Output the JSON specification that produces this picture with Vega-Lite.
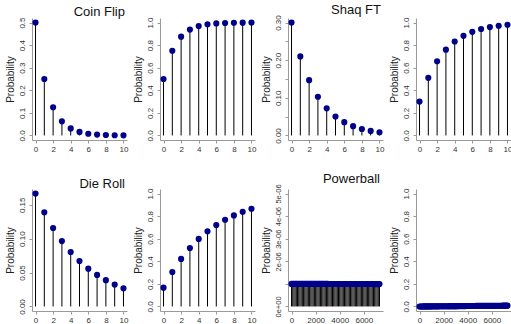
{
"$schema": "https://vega.github.io/schema/vega-lite/v6.json",
"padding": {"left": 5, "top": 3, "right": 0, "bottom": 0},
"bounds": "flush",
"columns": 4,
"spacing": {"row": 49, "column": 33},
"config": {
  "view": {"stroke": null},
  "font": "Liberation Sans",
  "axis": {"grid": false, "domainColor": "#9a9a9a", "tickColor": "#9a9a9a", "tickSize": 3, "labelFontSize": 8, "labelColor": "#333333", "titleFontSize": 10, "titleFontWeight": "normal", "titleColor": "#222222", "labelOverlap": false, "labelFlush": false},
  "axisY": {"labelAngle": -90, "labelAlign": "center", "labelBaseline": "bottom", "labelPadding": 3, "minExtent": 14, "maxExtent": 14, "titlePadding": 2.5},
  "axisX": {"labelPadding": 2},
  "title": {"fontSize": 13, "fontWeight": "normal", "anchor": "end", "color": "#111111", "offset": -2, "dx": -3, "baseline": "alphabetic"}
},
"datasets": {
  "geo": [
    {"game": "Coin Flip", "k": 0, "pmf": 0.5, "cdf": 0.5},
    {"game": "Coin Flip", "k": 1, "pmf": 0.25, "cdf": 0.75},
    {"game": "Coin Flip", "k": 2, "pmf": 0.125, "cdf": 0.875},
    {"game": "Coin Flip", "k": 3, "pmf": 0.0625, "cdf": 0.9375},
    {"game": "Coin Flip", "k": 4, "pmf": 0.03125, "cdf": 0.96875},
    {"game": "Coin Flip", "k": 5, "pmf": 0.015625, "cdf": 0.984375},
    {"game": "Coin Flip", "k": 6, "pmf": 0.0078125, "cdf": 0.9921875},
    {"game": "Coin Flip", "k": 7, "pmf": 0.00390625, "cdf": 0.99609375},
    {"game": "Coin Flip", "k": 8, "pmf": 0.00195313, "cdf": 0.99804688},
    {"game": "Coin Flip", "k": 9, "pmf": 0.00097656, "cdf": 0.99902344},
    {"game": "Coin Flip", "k": 10, "pmf": 0.00048828, "cdf": 0.99951172},
    {"game": "Shaq FT", "k": 0, "pmf": 0.3, "cdf": 0.3},
    {"game": "Shaq FT", "k": 1, "pmf": 0.21, "cdf": 0.51},
    {"game": "Shaq FT", "k": 2, "pmf": 0.147, "cdf": 0.657},
    {"game": "Shaq FT", "k": 3, "pmf": 0.1029, "cdf": 0.7599},
    {"game": "Shaq FT", "k": 4, "pmf": 0.07203, "cdf": 0.83193},
    {"game": "Shaq FT", "k": 5, "pmf": 0.050421, "cdf": 0.882351},
    {"game": "Shaq FT", "k": 6, "pmf": 0.035295, "cdf": 0.917646},
    {"game": "Shaq FT", "k": 7, "pmf": 0.024706, "cdf": 0.942352},
    {"game": "Shaq FT", "k": 8, "pmf": 0.017294, "cdf": 0.959646},
    {"game": "Shaq FT", "k": 9, "pmf": 0.012106, "cdf": 0.971752},
    {"game": "Shaq FT", "k": 10, "pmf": 0.008474, "cdf": 0.980227},
    {"game": "Die Roll", "k": 0, "pmf": 0.166667, "cdf": 0.166667},
    {"game": "Die Roll", "k": 1, "pmf": 0.138889, "cdf": 0.305556},
    {"game": "Die Roll", "k": 2, "pmf": 0.115741, "cdf": 0.421296},
    {"game": "Die Roll", "k": 3, "pmf": 0.096451, "cdf": 0.517747},
    {"game": "Die Roll", "k": 4, "pmf": 0.080376, "cdf": 0.598122},
    {"game": "Die Roll", "k": 5, "pmf": 0.06698, "cdf": 0.665102},
    {"game": "Die Roll", "k": 6, "pmf": 0.055816, "cdf": 0.720918},
    {"game": "Die Roll", "k": 7, "pmf": 0.046514, "cdf": 0.767432},
    {"game": "Die Roll", "k": 8, "pmf": 0.038761, "cdf": 0.806193},
    {"game": "Die Roll", "k": 9, "pmf": 0.032301, "cdf": 0.838494},
    {"game": "Die Roll", "k": 10, "pmf": 0.026918, "cdf": 0.865412}
  ],
  "powerball": [
    {"k": 0, "pmf": 1.0e-6, "cdf": 0.000001},
    {"k": 100, "pmf": 9.999e-7, "cdf": 0.000101},
    {"k": 200, "pmf": 9.998e-7, "cdf": 0.000201},
    {"k": 300, "pmf": 9.997e-7, "cdf": 0.000301},
    {"k": 400, "pmf": 9.996e-7, "cdf": 0.000401},
    {"k": 500, "pmf": 9.995e-7, "cdf": 0.000501},
    {"k": 600, "pmf": 9.994e-7, "cdf": 0.000601},
    {"k": 700, "pmf": 9.993e-7, "cdf": 0.000701},
    {"k": 800, "pmf": 9.992e-7, "cdf": 0.000801},
    {"k": 900, "pmf": 9.991e-7, "cdf": 0.000901},
    {"k": 1000, "pmf": 9.99e-7, "cdf": 0.001000},
    {"k": 1100, "pmf": 9.989e-7, "cdf": 0.001100},
    {"k": 1200, "pmf": 9.988e-7, "cdf": 0.001200},
    {"k": 1300, "pmf": 9.987e-7, "cdf": 0.001300},
    {"k": 1400, "pmf": 9.986e-7, "cdf": 0.001400},
    {"k": 1500, "pmf": 9.985e-7, "cdf": 0.001500},
    {"k": 1600, "pmf": 9.984e-7, "cdf": 0.001600},
    {"k": 1700, "pmf": 9.983e-7, "cdf": 0.001700},
    {"k": 1800, "pmf": 9.982e-7, "cdf": 0.001799},
    {"k": 1900, "pmf": 9.981e-7, "cdf": 0.001899},
    {"k": 2000, "pmf": 9.98e-7, "cdf": 0.001999},
    {"k": 2100, "pmf": 9.979e-7, "cdf": 0.002099},
    {"k": 2200, "pmf": 9.978e-7, "cdf": 0.002199},
    {"k": 2300, "pmf": 9.977e-7, "cdf": 0.002298},
    {"k": 2400, "pmf": 9.976e-7, "cdf": 0.002398},
    {"k": 2500, "pmf": 9.975e-7, "cdf": 0.002498},
    {"k": 2600, "pmf": 9.974e-7, "cdf": 0.002598},
    {"k": 2700, "pmf": 9.973e-7, "cdf": 0.002697},
    {"k": 2800, "pmf": 9.972e-7, "cdf": 0.002797},
    {"k": 2900, "pmf": 9.971e-7, "cdf": 0.002897},
    {"k": 3000, "pmf": 9.97e-7, "cdf": 0.002997},
    {"k": 3100, "pmf": 9.969e-7, "cdf": 0.003096},
    {"k": 3200, "pmf": 9.968e-7, "cdf": 0.003196},
    {"k": 3300, "pmf": 9.967e-7, "cdf": 0.003296},
    {"k": 3400, "pmf": 9.966e-7, "cdf": 0.003395},
    {"k": 3500, "pmf": 9.965e-7, "cdf": 0.003495},
    {"k": 3600, "pmf": 9.964e-7, "cdf": 0.003595},
    {"k": 3700, "pmf": 9.963e-7, "cdf": 0.003694},
    {"k": 3800, "pmf": 9.962e-7, "cdf": 0.003794},
    {"k": 3900, "pmf": 9.961e-7, "cdf": 0.003893},
    {"k": 4000, "pmf": 9.96e-7, "cdf": 0.003993},
    {"k": 4100, "pmf": 9.959e-7, "cdf": 0.004093},
    {"k": 4200, "pmf": 9.958e-7, "cdf": 0.004192},
    {"k": 4300, "pmf": 9.957e-7, "cdf": 0.004292},
    {"k": 4400, "pmf": 9.956e-7, "cdf": 0.004391},
    {"k": 4500, "pmf": 9.955e-7, "cdf": 0.004491},
    {"k": 4600, "pmf": 9.954e-7, "cdf": 0.004590},
    {"k": 4700, "pmf": 9.953e-7, "cdf": 0.004690},
    {"k": 4800, "pmf": 9.952e-7, "cdf": 0.004789},
    {"k": 4900, "pmf": 9.951e-7, "cdf": 0.004889},
    {"k": 5000, "pmf": 9.95e-7, "cdf": 0.004989},
    {"k": 5100, "pmf": 9.949e-7, "cdf": 0.005088},
    {"k": 5200, "pmf": 9.948e-7, "cdf": 0.005187},
    {"k": 5300, "pmf": 9.947e-7, "cdf": 0.005287},
    {"k": 5400, "pmf": 9.946e-7, "cdf": 0.005386},
    {"k": 5500, "pmf": 9.945e-7, "cdf": 0.005486},
    {"k": 5600, "pmf": 9.944e-7, "cdf": 0.005585},
    {"k": 5700, "pmf": 9.943e-7, "cdf": 0.005685},
    {"k": 5800, "pmf": 9.942e-7, "cdf": 0.005784},
    {"k": 5900, "pmf": 9.941e-7, "cdf": 0.005884},
    {"k": 6000, "pmf": 9.94e-7, "cdf": 0.005983},
    {"k": 6100, "pmf": 9.939e-7, "cdf": 0.006082},
    {"k": 6200, "pmf": 9.938e-7, "cdf": 0.006182},
    {"k": 6300, "pmf": 9.937e-7, "cdf": 0.006281},
    {"k": 6400, "pmf": 9.936e-7, "cdf": 0.006381},
    {"k": 6500, "pmf": 9.935e-7, "cdf": 0.006480},
    {"k": 6600, "pmf": 9.934e-7, "cdf": 0.006579},
    {"k": 6700, "pmf": 9.933e-7, "cdf": 0.006679},
    {"k": 6800, "pmf": 9.932e-7, "cdf": 0.006778},
    {"k": 6900, "pmf": 9.931e-7, "cdf": 0.006877},
    {"k": 7000, "pmf": 9.93e-7, "cdf": 0.006977},
    {"k": 7100, "pmf": 9.929e-7, "cdf": 0.007076},
    {"k": 7200, "pmf": 9.928e-7, "cdf": 0.007175},
    {"k": 7300, "pmf": 9.927e-7, "cdf": 0.007274}
  ]
},
"concat": [
  {
    "width": 95, "height": 122,
    "title": {"text": "Coin Flip"},
    "data": {"name": "geo"},
    "transform": [{"filter": "datum.game == 'Coin Flip'"}],
    "encoding": {
      "x": {"field": "k", "type": "quantitative", "scale": {"domain": [-0.4, 10.4], "nice": false, "zero": false}, "axis": {"values": [0, 2, 4, 6, 8, 10], "format": "d", "title": null}},
      "y": {"field": "pmf", "type": "quantitative", "scale": {"domain": [-0.02, 0.52], "nice": false, "zero": false}, "axis": {"values": [0, 0.1, 0.2, 0.3, 0.4, 0.5], "format": ".1f", "title": "Probability"}}
    },
    "layer": [
      {"mark": {"type": "rule", "color": "black", "strokeWidth": 1}, "encoding": {"y2": {"datum": 0}}},
      {"mark": {"type": "circle", "size": 38, "color": "#00008B", "opacity": 1}}
    ]
  },
  {
    "width": 95, "height": 122,
    "data": {"name": "geo"},
    "transform": [{"filter": "datum.game == 'Coin Flip'"}],
    "encoding": {
      "x": {"field": "k", "type": "quantitative", "scale": {"domain": [-0.4, 10.4], "nice": false, "zero": false}, "axis": {"values": [0, 2, 4, 6, 8, 10], "format": "d", "title": null}},
      "y": {"field": "cdf", "type": "quantitative", "scale": {"domain": [-0.04, 1.04], "nice": false, "zero": false}, "axis": {"values": [0, 0.2, 0.4, 0.6, 0.8, 1], "format": ".1f", "title": "Probability"}}
    },
    "layer": [
      {"mark": {"type": "rule", "color": "black", "strokeWidth": 1}, "encoding": {"y2": {"datum": 0}}},
      {"mark": {"type": "circle", "size": 38, "color": "#00008B", "opacity": 1}}
    ]
  },
  {
    "width": 95, "height": 122,
    "title": {"text": "Shaq FT"},
    "data": {"name": "geo"},
    "transform": [{"filter": "datum.game == 'Shaq FT'"}],
    "encoding": {
      "x": {"field": "k", "type": "quantitative", "scale": {"domain": [-0.4, 10.4], "nice": false, "zero": false}, "axis": {"values": [0, 2, 4, 6, 8, 10], "format": "d", "title": null}},
      "y": {"field": "pmf", "type": "quantitative", "scale": {"domain": [-0.012, 0.312], "nice": false, "zero": false}, "axis": {"values": [0, 0.05, 0.1, 0.15, 0.2, 0.25, 0.3], "labelExpr": "abs((datum.value * 20) % 2) > 0.5 ? '' : format(datum.value, '.2f')", "title": "Probability"}}
    },
    "layer": [
      {"mark": {"type": "rule", "color": "black", "strokeWidth": 1}, "encoding": {"y2": {"datum": 0}}},
      {"mark": {"type": "circle", "size": 38, "color": "#00008B", "opacity": 1}}
    ]
  },
  {
    "width": 95, "height": 122,
    "data": {"name": "geo"},
    "transform": [{"filter": "datum.game == 'Shaq FT'"}],
    "encoding": {
      "x": {"field": "k", "type": "quantitative", "scale": {"domain": [-0.4, 10.4], "nice": false, "zero": false}, "axis": {"values": [0, 2, 4, 6, 8, 10], "format": "d", "title": null}},
      "y": {"field": "cdf", "type": "quantitative", "scale": {"domain": [-0.04, 1.04], "nice": false, "zero": false}, "axis": {"values": [0, 0.2, 0.4, 0.6, 0.8, 1], "format": ".1f", "title": "Probability"}}
    },
    "layer": [
      {"mark": {"type": "rule", "color": "black", "strokeWidth": 1}, "encoding": {"y2": {"datum": 0}}},
      {"mark": {"type": "circle", "size": 38, "color": "#00008B", "opacity": 1}}
    ]
  },
  {
    "width": 95, "height": 122,
    "title": {"text": "Die Roll"},
    "data": {"name": "geo"},
    "transform": [{"filter": "datum.game == 'Die Roll'"}],
    "encoding": {
      "x": {"field": "k", "type": "quantitative", "scale": {"domain": [-0.4, 10.4], "nice": false, "zero": false}, "axis": {"values": [0, 2, 4, 6, 8, 10], "format": "d", "title": null}},
      "y": {"field": "pmf", "type": "quantitative", "scale": {"domain": [-0.00667, 0.17333], "nice": false, "zero": false}, "axis": {"values": [0, 0.05, 0.1, 0.15], "format": ".2f", "title": "Probability"}}
    },
    "layer": [
      {"mark": {"type": "rule", "color": "black", "strokeWidth": 1}, "encoding": {"y2": {"datum": 0}}},
      {"mark": {"type": "circle", "size": 38, "color": "#00008B", "opacity": 1}}
    ]
  },
  {
    "width": 95, "height": 122,
    "data": {"name": "geo"},
    "transform": [{"filter": "datum.game == 'Die Roll'"}],
    "encoding": {
      "x": {"field": "k", "type": "quantitative", "scale": {"domain": [-0.4, 10.4], "nice": false, "zero": false}, "axis": {"values": [0, 2, 4, 6, 8, 10], "format": "d", "title": null}},
      "y": {"field": "cdf", "type": "quantitative", "scale": {"domain": [-0.04, 1.04], "nice": false, "zero": false}, "axis": {"values": [0, 0.2, 0.4, 0.6, 0.8, 1], "format": ".1f", "title": "Probability"}}
    },
    "layer": [
      {"mark": {"type": "rule", "color": "black", "strokeWidth": 1}, "encoding": {"y2": {"datum": 0}}},
      {"mark": {"type": "circle", "size": 38, "color": "#00008B", "opacity": 1}}
    ]
  },
  {
    "width": 95, "height": 122,
    "title": {"text": "Powerball"},
    "data": {"name": "powerball"},
    "encoding": {
      "x": {"field": "k", "type": "quantitative", "scale": {"domain": [-292, 7592], "nice": false, "zero": false}, "axis": {"values": [0, 2000, 4000, 6000], "format": "d", "title": null}},
      "y": {"field": "pmf", "type": "quantitative", "scale": {"domain": [-2e-7, 5.2e-6], "nice": false, "zero": false}, "axis": {"values": [0, 1e-6, 2e-6, 3e-6, 4e-6, 5e-6], "labelExpr": "datum.value < 1e-7 ? '0e+00' : (datum.value < 1.5e-6 ? '' : format(datum.value * 1e6, '.0f') + 'e-06')", "labelFontSize": 7.5, "title": "Probability"}}
    },
    "layer": [
      {"mark": {"type": "rule", "color": "black", "strokeWidth": 1}, "encoding": {"y2": {"datum": 0}}},
      {"mark": {"type": "circle", "size": 38, "color": "#00008B", "opacity": 1}}
    ]
  },
  {
    "width": 95, "height": 122,
    "data": {"name": "powerball"},
    "encoding": {
      "x": {"field": "k", "type": "quantitative", "scale": {"domain": [-292, 7592], "nice": false, "zero": false}, "axis": {"values": [0, 2000, 4000, 6000], "format": "d", "title": null}},
      "y": {"field": "cdf", "type": "quantitative", "scale": {"domain": [-0.04, 1.04], "nice": false, "zero": false}, "axis": {"values": [0, 0.2, 0.4, 0.6, 0.8, 1], "format": ".1f", "title": "Probability"}}
    },
    "layer": [
      {"mark": {"type": "rule", "color": "black", "strokeWidth": 1}, "encoding": {"y2": {"datum": 0}}},
      {"mark": {"type": "circle", "size": 38, "color": "#00008B", "opacity": 1}}
    ]
  }
]
}
